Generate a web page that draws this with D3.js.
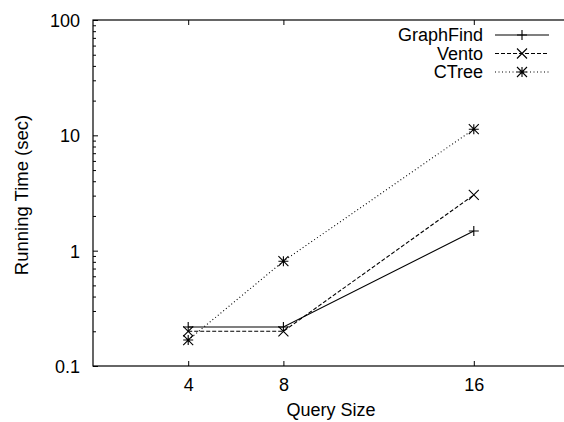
<!DOCTYPE html>
<meta charset="utf-8">
<style>
body { margin: 0; background: #fff; }
text { font-family: "Liberation Sans", Arial, sans-serif; font-size: 18px; fill: #000; }
.axis path { display: none; }
.axis line { stroke: #000; stroke-width: 1; }
.series { fill: none; stroke: #000; stroke-width: 1.1; }
.mark { stroke: #000; stroke-width: 1.1; fill: none; }
</style>
<svg width="564" height="422"></svg>
<script src="https://d3js.org/d3.v7.min.js"></script>
<script>

var querySizes = [4, 8, 16];
var graphFind = [0.218, 0.218, 1.48];
var vento = [0.2, 0.2, 3.04];
var ctree = [0.168, 0.81, 11.3];
var seriesNames = ["GraphFind", "Vento", "CTree"];
var yTicks = [0.1, 1, 10, 100];

var series = [
  {name: seriesNames[0], values: graphFind, dash: null, marker: "plus"},
  {name: seriesNames[1], values: vento, dash: "4,2", marker: "cross"},
  {name: seriesNames[2], values: ctree, dash: "1,2.5", marker: "star"}
];

var svg = d3.select("svg"),
    margin = {top: 20, right: -5, bottom: 56, left: 93},
    width = +svg.attr("width") - margin.left - margin.right,
    height = +svg.attr("height") - margin.top - margin.bottom;

var x = d3.scaleLinear().domain([0, 20]).range([0, width]),
    y = d3.scaleLog().domain([0.1, 100]).range([height, 0]);

var g = svg.append("g")
    .attr("transform", "translate(" + margin.left + "," + margin.top + ")");

// minor ticks on the log axis
var minor = [];
[0.1, 1, 10].forEach(function(d) {
  for (var k = 2; k <= 9; k++) minor.push(d * k);
});

g.append("g").attr("class", "axis")
    .call(d3.axisLeft(y).tickValues(minor).tickSize(-3).tickFormat(""));
g.append("g").attr("class", "axis")
    .attr("transform", "translate(" + width + ",0)")
    .call(d3.axisRight(y).tickValues(minor).tickSize(-3).tickFormat(""));

g.append("g").attr("class", "axis")
    .call(d3.axisLeft(y).tickValues(yTicks).tickSize(-5).tickPadding(13)
      .tickFormat(function(d) { return d3.format("~g")(d); }))
  .selectAll("text").attr("dy", "0.36em");
g.append("g").attr("class", "axis")
    .attr("transform", "translate(" + width + ",0)")
    .call(d3.axisRight(y).tickValues(yTicks).tickSize(-5).tickFormat(""));

g.append("g").attr("class", "axis")
    .attr("transform", "translate(0," + height + ")")
    .call(d3.axisBottom(x).tickValues(querySizes).tickSize(-5).tickPadding(12))
  .selectAll("text").attr("dy", "0.71em");
g.append("g").attr("class", "axis")
    .call(d3.axisTop(x).tickValues(querySizes).tickSize(-5).tickFormat(""));

g.append("rect")
    .attr("width", width).attr("height", height)
    .attr("fill", "none").attr("stroke", "#000").attr("stroke-width", 1.2);

svg.append("text")
    .attr("transform", "translate(28,195) rotate(-90)")
    .attr("text-anchor", "middle")
    .style("font-size", "18.5px")
    .text("Running Time (sec)");

svg.append("text")
    .attr("x", margin.left + x(10)).attr("y", 416)
    .attr("text-anchor", "middle")
    .text("Query Size");

function drawMarker(sel, type) {
  var s = 5;
  var p = "";
  if (type === "plus" || type === "star") p += "M" + (-s) + ",0H" + s + "M0," + (-s) + "V" + s;
  if (type === "cross" || type === "star") p += "M" + (-s) + "," + (-s) + "L" + s + "," + s + "M" + (-s) + "," + s + "L" + s + "," + (-s);
  sel.append("path").attr("class", "mark").attr("d", p);
}

var line = d3.line()
    .x(function(d) { return x(d[0]); })
    .y(function(d) { return y(d[1]); });

series.forEach(function(s) {
  var pts = querySizes.map(function(q, i) { return [q, s.values[i]]; });
  g.append("path")
      .datum(pts)
      .attr("class", "series")
      .attr("stroke-dasharray", s.dash)
      .attr("d", line);
  pts.forEach(function(p) {
    g.append("g")
        .attr("transform", "translate(" + x(p[0]) + "," + y(p[1]) + ")")
        .call(drawMarker, s.marker);
  });
});

// legend
var legend = svg.append("g");
series.forEach(function(s, i) {
  var ly = 35 + i * 18.5;
  legend.append("text")
      .attr("x", 483).attr("y", ly).attr("dy", "0.36em")
      .attr("text-anchor", "end")
      .text(s.name);
  legend.append("line")
      .attr("class", "series")
      .attr("x1", 495).attr("x2", 549).attr("y1", ly).attr("y2", ly)
      .attr("stroke-dasharray", s.dash);
  legend.append("g")
      .attr("transform", "translate(522," + ly + ")")
      .call(drawMarker, s.marker);
});

</script>
